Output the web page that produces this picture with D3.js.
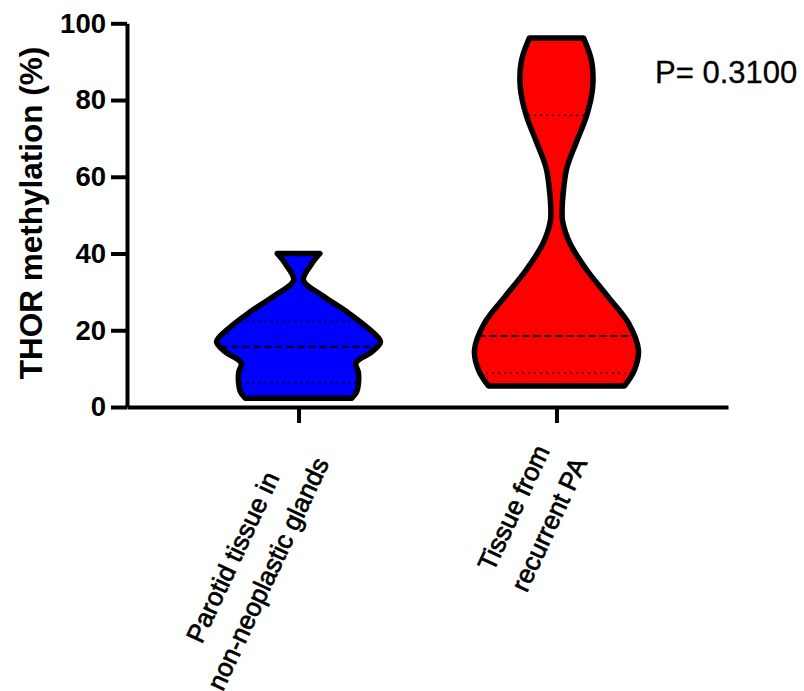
<!DOCTYPE html>
<html>
<head>
<meta charset="utf-8">
<script src="https://cdn.jsdelivr.net/npm/d3@7"></script>
<style>
  body { margin: 0; background: #fff; }
  svg { display: block; }
  text { font-family: "Liberation Sans", Arial, sans-serif; }
</style>
</head>
<body>
<svg id="chart" width="804" height="691"></svg>
<script>
// categories (each label is split on two lines, as in the original)
const categories = ["Parotid", "Recurrent"];
const categoryLabels = [["Parotid tissue in", "non-neoplastic glands"], ["Tissue from", "recurrent PA"]];
const fillColors = ["#0000ff", "#ff0000"];

// violin outlines: methylation value -> relative width
const parotidValues  = [2.3, 4, 6, 9, 11.5, 14.5, 17, 20.5, 24.8, 29.2, 33, 37, 40];
const parotidDensity = [0.65, 0.71, 0.73, 0.73, 0.70, 0.90, 1.0, 0.85, 0.59, 0.28, 0.06, 0.15, 0.26];

const recurrentValues  = [5.5, 9.6, 14.8, 21.8, 28.7, 35.7, 42.6, 48.4, 52, 55.3, 62.2, 69.2, 76.1, 83, 90, 96.2];
const recurrentDensity = [0.83, 0.95, 1.0, 0.88, 0.63, 0.37, 0.165, 0.075, 0.07, 0.08, 0.125, 0.246, 0.37, 0.44, 0.43, 0.33];

// median and quartiles
const medians = [15.7, 18.5];
const quartiles = [[6.3, 22.4], [8.8, 76]];

const yTicks = [0, 20, 40, 60, 80, 100];
const pText = "P= 0.3100";

const svg = d3.select('#chart');

const y = d3.scaleLinear().domain([0, 100]).range([407, 23.3]);
const x = d3.scalePoint().domain(categories).range([127, 728]).padding(0.665);
const w = d3.scaleLinear().domain([0, 1]).range([0, 82]);

const violins = [
    { key: categories[0], values: parotidValues, density: parotidDensity },
    { key: categories[1], values: recurrentValues, density: recurrentDensity }
];

violins.forEach((v, i) => {
    const cx = x(v.key);
    const pts = v.values.map((val, j) => ({ v: val, d: v.density[j] }));
    const area = d3.area()
        .curve(d3.curveCatmullRom.alpha(0.5))
        .y(d => y(d.v))
        .x0(d => cx - w(d.d))
        .x1(d => cx + w(d.d));
    const pathD = area(pts);

    svg.append('clipPath').attr('id', 'clip' + i)
        .append('path').attr('d', pathD);

    svg.append('path')
        .attr('d', pathD)
        .attr('fill', fillColors[i])
        .attr('stroke', 'none');

    const g = svg.append('g').attr('clip-path', 'url(#clip' + i + ')');
    g.append('line')
        .attr('x1', cx - 100).attr('x2', cx + 100)
        .attr('y1', y(medians[i])).attr('y2', y(medians[i]))
        .attr('stroke', '#000').attr('stroke-width', 2)
        .attr('stroke-dasharray', '7,4');
    quartiles[i].forEach(q => {
        g.append('line')
            .attr('x1', cx - 100).attr('x2', cx + 100)
            .attr('y1', y(q)).attr('y2', y(q))
            .attr('stroke', '#000').attr('stroke-width', 1.6)
            .attr('stroke-dasharray', '1.6,4.4');
    });

    svg.append('path')
        .attr('d', pathD)
        .attr('fill', 'none')
        .attr('stroke', '#000')
        .attr('stroke-width', 5.5)
        .attr('stroke-linejoin', 'round');
});

// y axis
const yAxis = svg.append('g')
    .attr('transform', 'translate(127,0)')
    .call(d3.axisLeft(y).tickValues(yTicks).tickSize(16).tickSizeOuter(0).tickPadding(5));
yAxis.select('.domain').attr('stroke-width', 4);
yAxis.selectAll('.tick line').attr('stroke-width', 4);
yAxis.selectAll('.tick text')
    .attr('font-size', 27.5).attr('font-weight', 'bold')
    .attr('font-family', '"Liberation Sans", Arial, sans-serif')
    .attr('fill', '#000');

// x axis
const xAxis = svg.append('g')
    .attr('transform', 'translate(0,407)')
    .call(d3.axisBottom(x).tickSize(16).tickSizeOuter(0).tickFormat(''));
xAxis.select('.domain').attr('stroke-width', 4);
xAxis.selectAll('.tick line').attr('stroke-width', 4);

// rotated category labels
categories.forEach((c, i) => {
    const g = svg.append('g')
        .attr('transform', `translate(${x(c)},423) rotate(-65)`);
    const texts = categoryLabels[i].map((line, k) =>
        g.append('text')
            .attr('y', 6 + k * 39)
            .attr('text-anchor', 'middle')
            .attr('font-size', 26)
            .attr('fill', '#000')
            .attr('stroke', '#000')
            .attr('stroke-width', 0.7)
            .text(line));
    const maxW = d3.max(texts, t => t.node().getComputedTextLength());
    texts.forEach(t => t.attr('x', -23 - maxW / 2));
});

// y axis title
svg.append('text')
    .attr('transform', 'translate(42,213) rotate(-90)')
    .attr('text-anchor', 'middle')
    .attr('font-size', 31.5)
    .attr('font-weight', 'bold')
    .attr('fill', '#000')
    .text('THOR methylation (%)');

// p value
svg.append('text')
    .attr('x', 655).attr('y', 83)
    .attr('font-size', 31)
    .attr('fill', '#000')
    .attr('stroke', '#000')
    .attr('stroke-width', 0.3)
    .text(pText);
</script>
</body>
</html>
